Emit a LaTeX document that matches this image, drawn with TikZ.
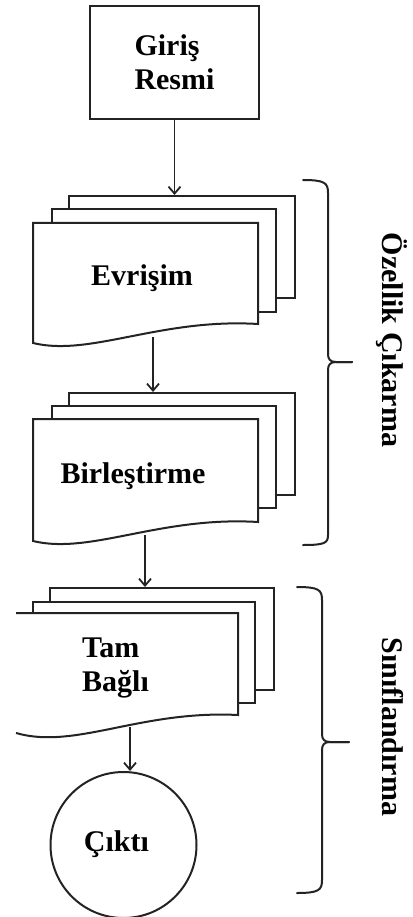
\documentclass[tikz,border=0pt]{standalone}
\usepackage{fontspec}
\setmainfont{Liberation Serif}
\usetikzlibrary{arrows.meta}
\definecolor{linec}{RGB}{35,35,35}
\begin{document}
\begin{tikzpicture}[x=1pt,y=-1pt,
  lbl/.style={font=\fontsize{30}{34}\selectfont\bfseries, inner sep=0pt, align=left, text=black},
  sheet/.style={draw=linec, fill=white, line width=2pt, inner sep=0pt},
  frontsheet/.style={draw=linec, fill=white, line width=2pt, line join=miter},
  conn/.style={draw=linec, line width=1.8pt, -{Straight Barb[length=7pt,width=12pt]}},
  bracepath/.style={draw=linec, line width=2pt, line join=round, line cap=round}]
\useasboundingbox (0,0) rectangle (412,917);

% input box
\node[draw=linec, line width=2pt, minimum width=169, minimum height=113, lbl] (giris) at (174.5,62.5) {Giriş\\Resmi};

% Evrisim stack
\node[sheet, minimum width=226, minimum height=102] (evback) at (182,247) {};
\node[sheet, minimum width=224, minimum height=103] (evmid) at (164,260.5) {};
\draw[frontsheet] (33,223) -- (258,223) -- (258,324) .. controls (160,318) and (90,357) .. (33,343) -- cycle;
\node[lbl, anchor=base] (ev) at (142,285) {Evrişim};
\coordinate (evout) at (153,337);

% Birlestirme stack
\node[sheet, minimum width=226, minimum height=102] (birback) at (182,444) {};
\node[sheet, minimum width=224, minimum height=102] (birmid) at (164,457) {};
\draw[frontsheet] (33,419) -- (258,419) -- (258,522) .. controls (160,516) and (90,555) .. (33,541) -- cycle;
\node[lbl, anchor=base] (bir) at (133,483) {Birleştirme};
\coordinate (birout) at (145,535);

% Tam Bagli stack
\node[sheet, minimum width=224, minimum height=102] (tamback) at (162,639) {};
\node[sheet, minimum width=222, minimum height=101] (tammid) at (144,652.5) {};
\fill[white] (16,613) -- (238,613) -- (238,715) .. controls (140,710) and (75,750) .. (16,733) -- cycle;
\draw[frontsheet, fill=none] (16,613) -- (238,613) -- (238,715) .. controls (140,710) and (75,750) .. (16,733);
\node[lbl, anchor=west] (tam) at (82,668) {Tam\\Bağlı};
\coordinate (tamout) at (130,727);

% output circle
\node[draw=linec, line width=2pt, circle, minimum size=146, inner sep=0pt] (cikti) at (123.5,845) {};
\node[lbl, anchor=base] (ciktit) at (116.5,851) {Çıktı};

% connectors
\draw[conn] (giris.south) -- (giris.south |- evback.north);
\draw[conn] (evout) -- (evout |- birback.north);
\draw[conn] (birout) -- (birout |- tamback.north);
\draw[conn] (tamout) -- (tamout |- cikti.north);

% braces
\draw[bracepath] (303,180) .. controls (325,180) and (328,183) .. (328,193) -- (328,354) .. controls (328,359) and (330,362) .. (336,362) -- (352,362);
\draw[bracepath] (352,362) -- (336,362) .. controls (330,362) and (328,365) .. (328,370) -- (328,535) .. controls (328,543) and (325,545) .. (303,545);
\draw[bracepath] (297,587) .. controls (319,587) and (322,590) .. (322,600) -- (322,734) .. controls (322,739) and (324,742) .. (330,742) -- (349,742);
\draw[bracepath] (349,742) -- (330,742) .. controls (324,742) and (322,745) .. (322,750) -- (322,880) .. controls (322,890) and (319,893) .. (297,893);

\node[lbl, rotate=-90] (ozellik) at (392,340) {Özellik Çıkarma};
\node[lbl, rotate=-90] (sinif) at (393,727) {Sınıflandırma};
\end{tikzpicture}
\end{document}
